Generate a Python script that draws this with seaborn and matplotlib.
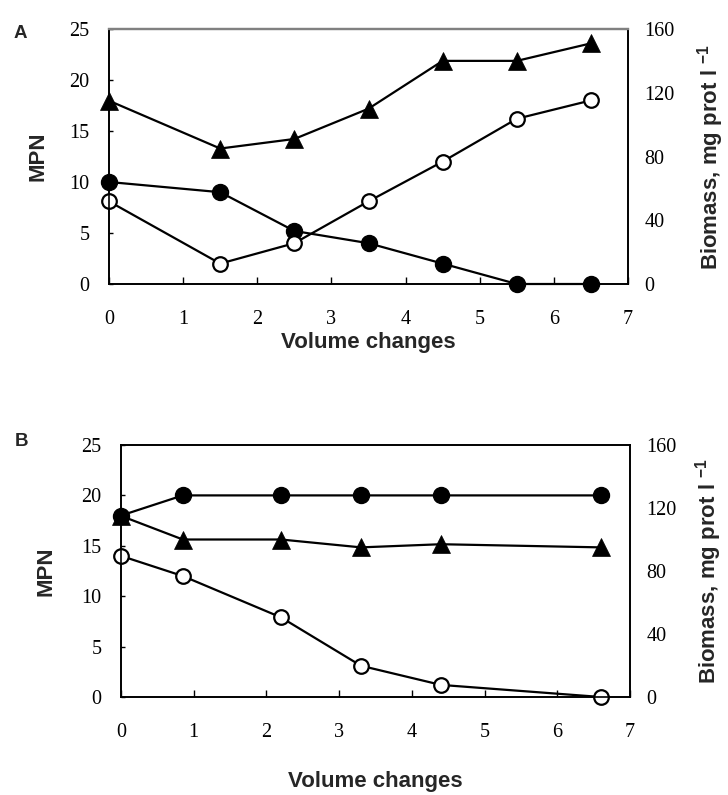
import matplotlib
matplotlib.use("Agg")
import matplotlib.pyplot as plt
import seaborn as sns

# Panel A: volume changes and measured series
vol_a = [0, 1.5, 2.5, 3.5, 4.5, 5.5, 6.5]
mpn_filled_a = [10, 9, 5.2, 4, 2, 0, 0]
mpn_open_a = [8.1, 2, 4, 8.1, 12, 16.2, 18]
biomass_a = [115, 85, 91, 110, 140, 140, 151]

# Panel B
vol_b = [0, 0.85, 2.2, 3.3, 4.4, 6.6]
mpn_filled_b = [18, 20, 20, 20, 20, 20]
mpn_open_b = [14, 12, 7.9, 3.1, 1.2, 0]
biomass_b = [115, 100, 100, 95, 97, 95]

x_ticks = [0, 1, 2, 3, 4, 5, 6, 7]
mpn_ticks = [0, 5, 10, 15, 20, 25]
biomass_ticks = [0, 40, 80, 120, 160]

sns.set_style("white")
plt.rcParams["font.family"] = ["Liberation Serif", "DejaVu Serif"]
plt.rcParams["mathtext.fontset"] = "custom"
plt.rcParams["mathtext.bf"] = "Liberation Sans:bold"
plt.rcParams["mathtext.rm"] = "Liberation Sans:bold"

W, H = 728, 795
fig = plt.figure(figsize=(W / 100, H / 100), dpi=100)

TICK_FS = 14.5
LABEL_FS = 16
label_font = dict(family=["Liberation Sans", "DejaVu Sans"], weight="bold", size=LABEL_FS)

def make_axes(left, top, right, bottom):
    return fig.add_axes([left / W, 1 - bottom / H, (right - left) / W, (bottom - top) / H])

def draw_panel(ax, vol, filled, opened, biomass, top_color, xlab_y, ylab_x, rlab_x, letter, letter_xy):
    ax2 = ax.twinx()
    # biomass on the secondary axis, drawn beneath the MPN series
    sns.lineplot(x=vol, y=biomass, ax=ax2, color="black", linewidth=1.6,
                 marker="^", markersize=13.5, markerfacecolor="black",
                 markeredgecolor="black", markeredgewidth=0.5,
                 estimator=None, sort=False)
    sns.lineplot(x=vol, y=filled, ax=ax, color="black", linewidth=1.6,
                 marker="o", markersize=11.5, markerfacecolor="black",
                 markeredgecolor="black", markeredgewidth=1.0,
                 estimator=None, sort=False)
    sns.lineplot(x=vol, y=opened, ax=ax, color="black", linewidth=1.6,
                 marker="o", markersize=10.5, markerfacecolor="white",
                 markeredgecolor="black", markeredgewidth=1.6,
                 estimator=None, sort=False)
    for a in (ax, ax2):
        for ln in a.lines:
            ln.set_clip_on(False)
    ax.set_zorder(ax2.get_zorder() + 1)
    ax.patch.set_visible(False)

    ax.set_xlim(0, 7)
    ax.set_ylim(0, 25)
    ax2.set_ylim(0, 160)
    ax.set_xticks(x_ticks)
    ax.set_xticklabels([str(t) for t in x_ticks])
    ax.set_yticks(mpn_ticks)
    ax.set_yticklabels([str(t) for t in mpn_ticks])
    ax2.set_yticks(biomass_ticks)
    ax2.set_yticklabels([str(t) for t in biomass_ticks])

    ax.tick_params(axis="x", direction="in", length=5, width=1, pad=19,
                   labelsize=TICK_FS, bottom=True, colors="black")
    ax.tick_params(axis="y", direction="in", length=3, width=1, pad=14,
                   labelsize=TICK_FS, left=True, colors="black")
    ax2.tick_params(axis="y", direction="in", length=0, width=1, pad=12,
                    labelsize=TICK_FS, right=True, colors="black")

    for a in (ax, ax2):
        for side in ("left", "right", "bottom"):
            a.spines[side].set_visible(True)
            a.spines[side].set_color("black")
            a.spines[side].set_linewidth(1.2)
        a.spines["top"].set_visible(True)
        a.spines["top"].set_color(top_color)
        a.spines["top"].set_linewidth(1.6 if top_color != "black" else 1.2)

    ax.set_xlabel("Volume changes", **label_font)
    ax.xaxis.set_label_coords(0.5, xlab_y)
    ax.set_ylabel("MPN", **label_font)
    ax.yaxis.set_label_coords(ylab_x, 0.5)
    ax.yaxis.label.set_verticalalignment("center")
    ax2.set_ylabel(r"Biomass, mg prot l $^{\mathbf{-1}}$", **label_font)
    ax2.yaxis.set_label_coords(rlab_x, 0.5)
    ax2.yaxis.label.set_verticalalignment("baseline")
    ax2.yaxis.label.set_rotation(90)

    fig.text(letter_xy[0] / W, 1 - letter_xy[1] / H, letter,
             family=["Liberation Sans", "DejaVu Sans"], weight="bold",
             size=13.5, ha="center", va="center")

ax_a = make_axes(109, 29, 628, 284)
draw_panel(ax_a, vol_a, mpn_filled_a, mpn_open_a, biomass_a, "#808080",
           xlab_y=-0.19, ylab_x=-0.137, rlab_x=1.172, letter="A", letter_xy=(20, 33))

ax_b = make_axes(121, 445, 630, 697)
draw_panel(ax_b, vol_b, mpn_filled_b, mpn_open_b, biomass_b, "black",
           xlab_y=-0.295, ylab_x=-0.148, rlab_x=1.168, letter="B", letter_xy=(21, 441))

fig.savefig("out.png", dpi=100, facecolor="white")
